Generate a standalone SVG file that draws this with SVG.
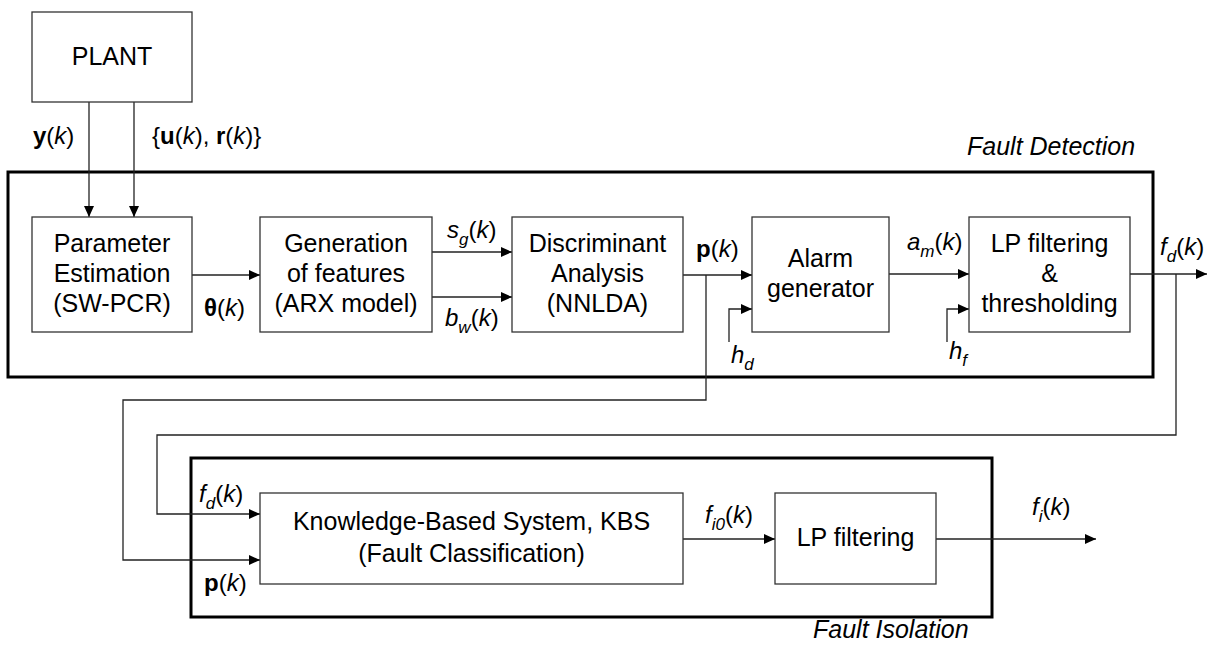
<svg xmlns="http://www.w3.org/2000/svg" width="1207" height="653" viewBox="0 0 1207 653">
  <style>
    text { font-family: "Liberation Sans", Arial, sans-serif; fill: #000; }
    .box { fill: #fff; stroke: #333; stroke-width: 1.3; }
    .frame { fill: none; stroke: #000; stroke-width: 3; }
    .lbl { font-size: 25px; text-anchor: middle; }
    .sig { font-size: 24px; }
    .cap { font-size: 25px; font-style: italic; }
    .wire { fill: none; stroke: #222; stroke-width: 1.3; }
    .arr { marker-end: url(#head); }
    .i { font-style: italic; }
    .b { font-weight: bold; }
    .sub { font-size: 17px; font-style: italic; }
  </style>
  <defs>
    <marker id="head" markerUnits="userSpaceOnUse" markerWidth="12" markerHeight="10" refX="11" refY="5" orient="auto">
      <path d="M0,0 L11,5 L0,10 Z" fill="#000"/>
    </marker>
  </defs>

  <rect width="1207" height="653" fill="#fff"/>

  <!-- enclosing frames -->
  <g id="fault-detection">
    <rect class="frame" x="8" y="172" width="1145" height="205"/>
    <text class="cap" x="967" y="155">Fault Detection</text>
  </g>
  <g id="fault-isolation">
    <rect class="frame" x="191" y="458" width="801" height="159"/>
    <text class="cap" x="813" y="638">Fault Isolation</text>
  </g>

  <!-- connectors -->
  <g id="connectors">
    <path class="wire arr" d="M89,102 V217"/>
    <path class="wire arr" d="M134,102 V217"/>
    <path class="wire arr" d="M192,275 H260"/>
    <path class="wire arr" d="M432,252 H512"/>
    <path class="wire arr" d="M432,297 H512"/>
    <path class="wire arr" d="M683,275 H752"/>
    <path class="wire arr" d="M729,342 V309 H752"/>
    <path class="wire arr" d="M889,274 H969"/>
    <path class="wire arr" d="M947,342 V309 H969"/>
    <path class="wire arr" d="M1130,274 H1207"/>
    <path class="wire arr" d="M706,275 V400 H123 V560 H260"/>
    <path class="wire arr" d="M1176,274 V435 H157 V514 H260"/>
    <path class="wire arr" d="M683,539 H775"/>
    <path class="wire arr" d="M936,539 H1096"/>
  </g>

  <!-- blocks -->
  <g id="plant">
    <rect class="box" x="32" y="12" width="160" height="90"/>
    <text class="lbl" x="112" y="65">PLANT</text>
  </g>
  <g id="parameter-estimation">
    <rect class="box" x="32" y="217" width="160" height="115"/>
    <text class="lbl" x="112" y="252">Parameter</text>
    <text class="lbl" x="112" y="282">Estimation</text>
    <text class="lbl" x="112" y="312">(SW-PCR)</text>
  </g>
  <g id="feature-generation">
    <rect class="box" x="260" y="217" width="172" height="115"/>
    <text class="lbl" x="346" y="252">Generation</text>
    <text class="lbl" x="346" y="282">of features</text>
    <text class="lbl" x="346" y="312">(ARX model)</text>
  </g>
  <g id="discriminant-analysis">
    <rect class="box" x="512" y="217" width="171" height="115"/>
    <text class="lbl" x="597.5" y="252">Discriminant</text>
    <text class="lbl" x="597.5" y="282">Analysis</text>
    <text class="lbl" x="597.5" y="312">(NNLDA)</text>
  </g>
  <g id="alarm-generator">
    <rect class="box" x="752" y="217" width="137" height="115"/>
    <text class="lbl" x="820.5" y="267">Alarm</text>
    <text class="lbl" x="820.5" y="297">generator</text>
  </g>
  <g id="lp-threshold">
    <rect class="box" x="969" y="217" width="161" height="115"/>
    <text class="lbl" x="1049.5" y="252">LP filtering</text>
    <text class="lbl" x="1049.5" y="282">&amp;</text>
    <text class="lbl" x="1049.5" y="312">thresholding</text>
  </g>
  <g id="kbs">
    <rect class="box" x="260" y="493" width="423" height="91"/>
    <text class="lbl" x="471.5" y="530">Knowledge-Based System, KBS</text>
    <text class="lbl" x="471.5" y="562">(Fault Classification)</text>
  </g>
  <g id="lp-filtering">
    <rect class="box" x="775" y="493" width="161" height="91"/>
    <text class="lbl" x="855.5" y="546">LP filtering</text>
  </g>

  <!-- signal labels -->
  <g id="signals">
    <text class="sig" x="33" y="144"><tspan class="b">y</tspan>(<tspan class="i">k</tspan>)</text>
    <text class="sig" x="152" y="144">{<tspan class="b">u</tspan>(<tspan class="i">k</tspan>), <tspan class="b">r</tspan>(<tspan class="i">k</tspan>)}</text>
    <text class="sig" x="204" y="316"><tspan class="b">θ</tspan>(<tspan class="i">k</tspan>)</text>
    <text class="sig" x="447" y="238"><tspan class="i">s</tspan><tspan class="sub" dy="7">g</tspan><tspan dy="-7">(</tspan><tspan class="i">k</tspan>)</text>
    <text class="sig" x="445" y="326"><tspan class="i">b</tspan><tspan class="sub" dy="7">w</tspan><tspan dy="-7">(</tspan><tspan class="i">k</tspan>)</text>
    <text class="sig" x="696" y="257"><tspan class="b">p</tspan>(<tspan class="i">k</tspan>)</text>
    <text class="sig" x="731" y="363"><tspan class="i">h</tspan><tspan class="sub" dy="7">d</tspan></text>
    <text class="sig" x="907" y="250"><tspan class="i">a</tspan><tspan class="sub" dy="7">m</tspan><tspan dy="-7">(</tspan><tspan class="i">k</tspan>)</text>
    <text class="sig" x="949" y="359"><tspan class="i">h</tspan><tspan class="sub" dy="7">f</tspan></text>
    <text class="sig" x="1160" y="255"><tspan class="i">f</tspan><tspan class="sub" dy="7">d</tspan><tspan dy="-7">(</tspan><tspan class="i">k</tspan>)</text>
    <text class="sig" x="199" y="502"><tspan class="i">f</tspan><tspan class="sub" dy="7">d</tspan><tspan dy="-7">(</tspan><tspan class="i">k</tspan>)</text>
    <text class="sig" x="204" y="591"><tspan class="b">p</tspan>(<tspan class="i">k</tspan>)</text>
    <text class="sig" x="705" y="523"><tspan class="i">f</tspan><tspan class="sub" dy="7">i0</tspan><tspan dy="-7">(</tspan><tspan class="i">k</tspan>)</text>
    <text class="sig" x="1032" y="515"><tspan class="i">f</tspan><tspan class="sub" dy="7">i</tspan><tspan dy="-7">(</tspan><tspan class="i">k</tspan>)</text>
  </g>
</svg>
